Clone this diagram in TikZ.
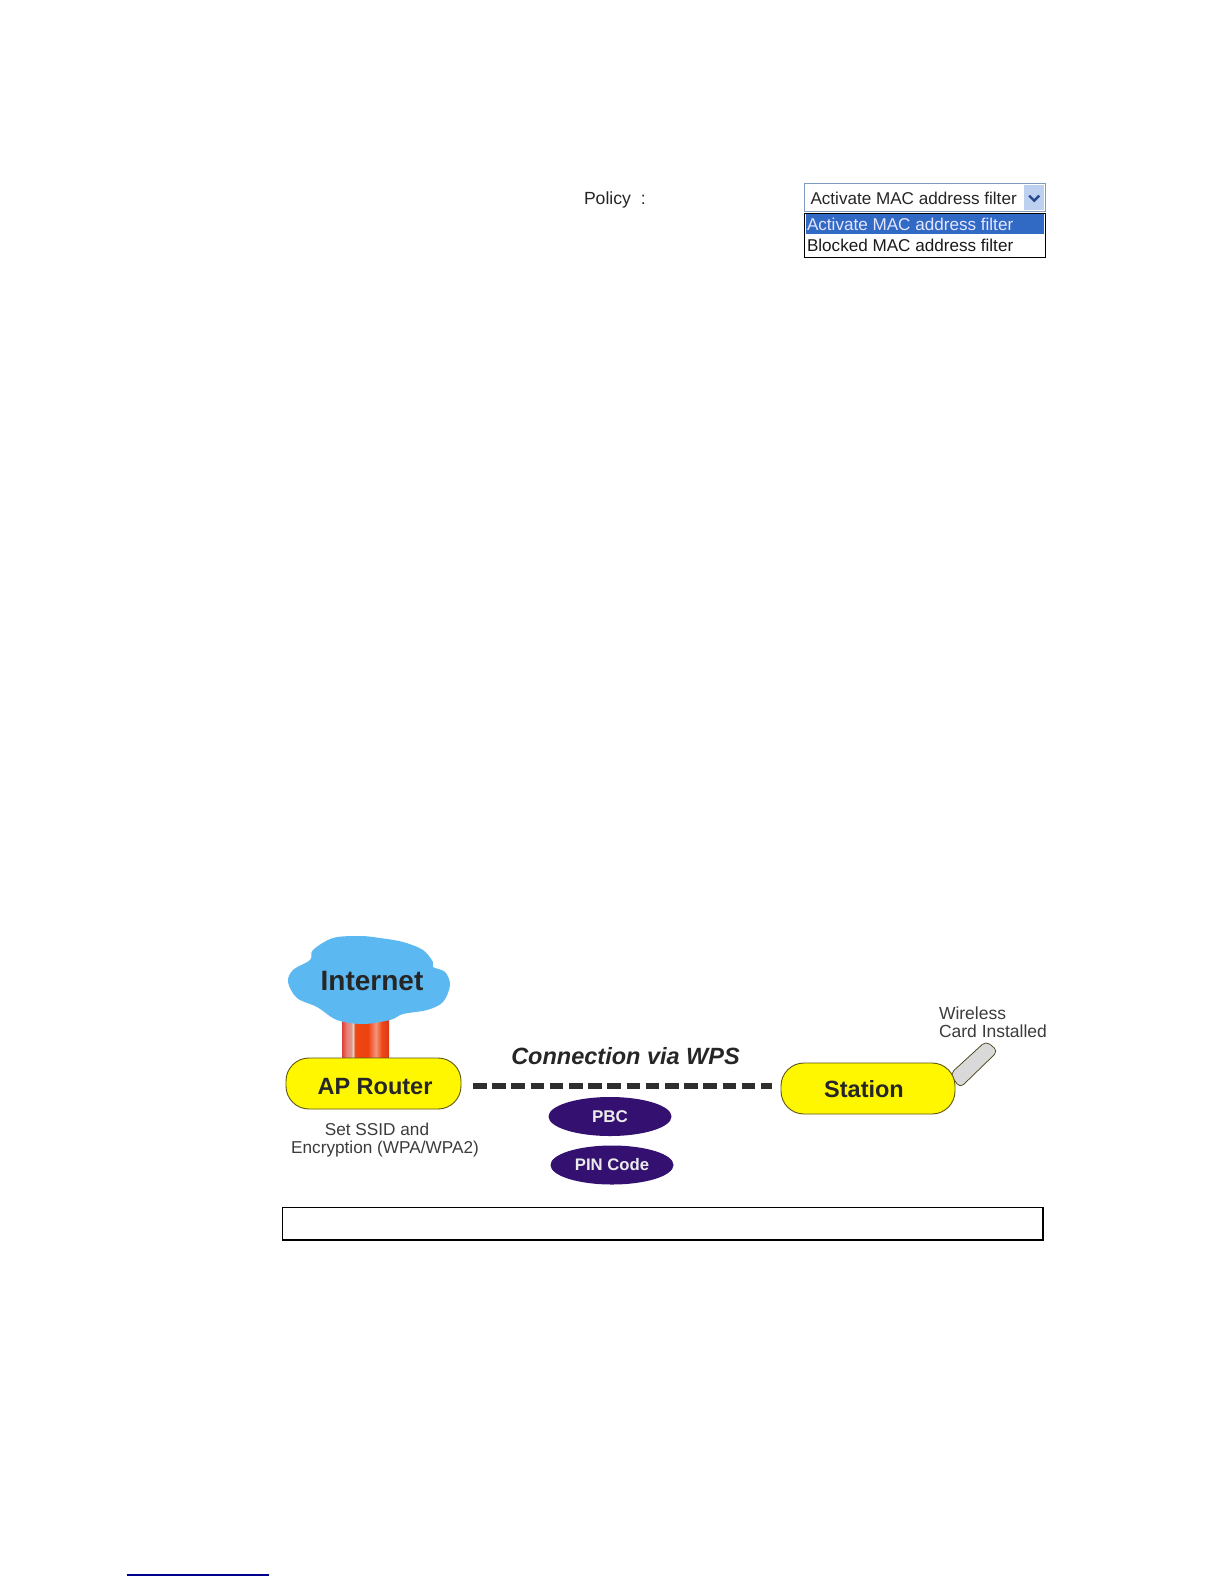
\documentclass[tikz,border=0pt]{standalone}
\usepackage{fontspec}
\setmainfont{Liberation Sans}
\usetikzlibrary{shapes.geometric}
\definecolor{pillyellow}{RGB}{255,247,0}
\definecolor{pilledge}{RGB}{95,85,20}
\definecolor{cloudblue}{RGB}{92,184,240}
\definecolor{ovalpurple}{RGB}{52,16,112}
\definecolor{selblue}{RGB}{49,106,197}
\definecolor{gray1}{RGB}{60,60,60}
\definecolor{btnblue}{RGB}{190,208,240}
\definecolor{edgeblue}{RGB}{125,155,190}
\pgfdeclarehorizontalshading{pipeshade}{100bp}{
  rgb(0bp)=(0.85,0.25,0.22);
  rgb(25bp)=(0.85,0.25,0.22);
  rgb(30bp)=(0.92,0.50,0.47);
  rgb(35bp)=(0.88,0.60,0.55);
  rgb(36.5bp)=(0.88,0.86,0.84);
  rgb(39bp)=(0.93,0.28,0.08);
  rgb(52.5bp)=(0.93,0.26,0.05);
  rgb(61bp)=(0.96,0.58,0.48);
  rgb(67.5bp)=(0.93,0.28,0.08);
  rgb(75bp)=(0.85,0.22,0.10);
  rgb(100bp)=(0.85,0.22,0.10)}
\tikzset{
  x=1pt,y=-1pt,
  plain/.style={inner sep=0pt,outer sep=0pt,font=\fontsize{#1}{#1}\selectfont,text=gray1},
  pill/.style={draw=pilledge,line width=0.9pt,fill=pillyellow,rounded corners=23pt,inner sep=0pt,
     font=\fontsize{23.5}{24}\selectfont\bfseries,text=black!85},
  oval/.style={ellipse,fill=ovalpurple,inner sep=0pt,text=white!92!black,font=\fontsize{16.7}{17}\selectfont\bfseries},
  menutext/.style={inner sep=0pt,outer sep=0pt,anchor=base west,font=\fontsize{17.1}{19}\selectfont},
  wpsline/.style={line width=6.5pt,dash pattern=on 13.5pt off 5.7pt,color=black!82},
}
\begin{document}
\begin{tikzpicture}
\useasboundingbox[fill=white] (0,0) rectangle (1224,1584);
% Policy control
\node[plain=17.6,anchor=base west,text=black!85] (policy) at (584,204) {Policy\hspace{10pt}:};
\node[draw=edgeblue,line width=1pt,fill=white,minimum width=240.5pt,minimum height=28pt,inner sep=0pt,anchor=north west] (sel) at (804,183) {};
\node[menutext,text=black!85] (seltext) at (810.5,204) {Activate MAC address filter};
\node[fill=btnblue,minimum width=20pt,minimum height=25pt,inner sep=0pt,anchor=north west] (btn) at (1024,185) {};
\draw[line width=2.4pt,color=selblue!70!black] ([shift={(-5,-2)}]btn.center) -- ([shift={(0,3)}]btn.center) -- ([shift={(5,-2)}]btn.center);
\node[draw=black,line width=1.3pt,fill=white,minimum width=240.5pt,minimum height=44pt,inner sep=0pt,anchor=north west] (menu) at (804,212.5) {};
\node[fill=selblue,minimum width=238pt,minimum height=20pt,inner sep=0pt,anchor=north west] (hl) at (805.5,214) {};
\node[menutext,text=white!90!blue] (opt1) at (807,230) {Activate MAC address filter};
\node[menutext,text=black!90] (opt2) at (807,251.5) {Blocked MAC address filter};
% Pipe and cloud
\shade[shading=pipeshade] (342,1015) rectangle (389,1060);
\fill[cloudblue] plot[smooth cycle,tension=0.55] coordinates {
 (288,982) (293,970) (310,960) (313,950) (333,938) (360,936) (380,938) (403,942) (423,950) (433,962) (433,967)
 (445,972) (450,985) (443,1002) (427,1010) (403,1014) (390,1020) (363,1024) (337,1020) (317,1007) (297,998)};
\node[plain=28,font=\fontsize{28}{28}\selectfont\bfseries,text=black!85] (internet) at (372,981) {Internet};
% Router, station
\node[pill,minimum width=175pt,minimum height=51pt] (router) at (373.5,1083.5) {\hspace*{3pt}\rule{0pt}{23pt}AP Router};
\draw[draw=pilledge!70!black,fill=black!15,line width=0.7pt,rounded corners=5pt]
  (950,1074) -- (986,1041) -- (998,1051) -- (960,1088) -- cycle;
\node[pill,minimum width=174pt,minimum height=51pt] (station) at (868,1088.5) {\hspace*{-8pt}\rule{0pt}{19pt}Station};
\node[plain=17.2,align=center,text=gray1,anchor=center] (setssid) at (385,1140) {\hspace*{-16pt}Set SSID and\\[0.8pt]Encryption (WPA/WPA2)};
\node[plain=17.5,align=left,anchor=west] (wireless) at (939,1022.5) {Wireless\\[0.5pt]Card Installed};
% Connection
\coordinate (dashL) at (473,1086);
\coordinate (dashR) at (772,1086);
\draw[wpsline] (dashL) -- (dashR);
\node[plain=23.5,font=\fontsize{23.5}{24}\selectfont\bfseries\itshape,text=black!85] (conn) at (625.5,1056) {Connection via WPS};
\node[oval,minimum width=123pt,minimum height=39pt,font=\fontsize{17}{17}\selectfont\bfseries] (pbc) at (610,1116.5) {PBC};
\node[oval,minimum width=123pt,minimum height=39pt] (pin) at (612,1165) {PIN Code};
% Caption box
\node[draw=black,line width=1pt,minimum width=760pt,minimum height=31.5pt,inner sep=0pt,anchor=north west] (capbox) at (282,1207) {};
\draw[line width=2pt] (capbox.north east) -- (capbox.south east) -- (capbox.south west);
% Link underline
\coordinate (linkL) at (127,1575);
\coordinate (linkR) at (269,1575);
\draw[color=blue!55!black,line width=1.2pt] (linkL) -- (linkR);
\end{tikzpicture}
\end{document}
